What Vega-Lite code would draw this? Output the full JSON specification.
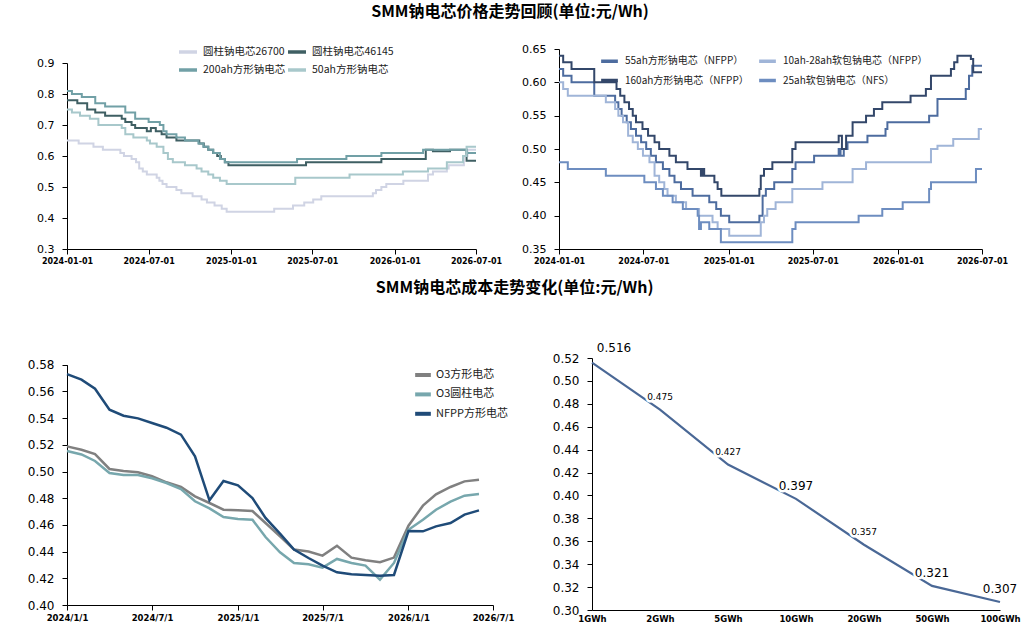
{
  "$schema": "https://vega.github.io/schema/vega-lite/v6.json",
  "padding": {"left": 27, "top": 4, "right": 5, "bottom": 5},
  "config": {
    "font": "DejaVu Sans",
    "view": {"stroke": null},
    "axis": {"grid": false, "domainColor": "#000", "tickColor": "#000", "labelColor": "#000", "tickSize": 5, "labelPadding": 8},
    "axisX": {"labelFlush": false, "labelOverlap": false, "labelFontWeight": "bold", "labelFontSize": 8, "labelPadding": 3, "labelAngle": 0},
    "legend": {"title": null, "orient": "none", "symbolType": "stroke", "labelFont": "Noto Sans CJK SC", "labelColor": "#222", "padding": 0},
    "title": {"font": "Noto Sans CJK SC", "fontSize": 16, "fontWeight": "bold", "color": "#000", "anchor": "middle", "baseline": "bottom"}
  },
  "datasets": {
    "tl": [
      {"s": "圆柱钠电芯26700", "d": "2024/01/01", "v": 0.65},
      {"s": "圆柱钠电芯26700", "d": "2024/01/27", "v": 0.64},
      {"s": "圆柱钠电芯26700", "d": "2024/02/29", "v": 0.63},
      {"s": "圆柱钠电芯26700", "d": "2024/03/21", "v": 0.62},
      {"s": "圆柱钠电芯26700", "d": "2024/04/29", "v": 0.61},
      {"s": "圆柱钠电芯26700", "d": "2024/05/07", "v": 0.60},
      {"s": "圆柱钠电芯26700", "d": "2024/05/24", "v": 0.59},
      {"s": "圆柱钠电芯26700", "d": "2024/06/03", "v": 0.58},
      {"s": "圆柱钠电芯26700", "d": "2024/06/10", "v": 0.56},
      {"s": "圆柱钠电芯26700", "d": "2024/06/18", "v": 0.55},
      {"s": "圆柱钠电芯26700", "d": "2024/06/27", "v": 0.54},
      {"s": "圆柱钠电芯26700", "d": "2024/07/19", "v": 0.53},
      {"s": "圆柱钠电芯26700", "d": "2024/07/25", "v": 0.52},
      {"s": "圆柱钠电芯26700", "d": "2024/08/01", "v": 0.51},
      {"s": "圆柱钠电芯26700", "d": "2024/08/10", "v": 0.50},
      {"s": "圆柱钠电芯26700", "d": "2024/09/01", "v": 0.49},
      {"s": "圆柱钠电芯26700", "d": "2024/09/12", "v": 0.48},
      {"s": "圆柱钠电芯26700", "d": "2024/10/07", "v": 0.47},
      {"s": "圆柱钠电芯26700", "d": "2024/10/27", "v": 0.46},
      {"s": "圆柱钠电芯26700", "d": "2024/11/08", "v": 0.45},
      {"s": "圆柱钠电芯26700", "d": "2024/11/25", "v": 0.44},
      {"s": "圆柱钠电芯26700", "d": "2024/12/11", "v": 0.43},
      {"s": "圆柱钠电芯26700", "d": "2024/12/22", "v": 0.42},
      {"s": "圆柱钠电芯26700", "d": "2025/04/07", "v": 0.43},
      {"s": "圆柱钠电芯26700", "d": "2025/05/19", "v": 0.44},
      {"s": "圆柱钠电芯26700", "d": "2025/06/13", "v": 0.45},
      {"s": "圆柱钠电芯26700", "d": "2025/07/03", "v": 0.46},
      {"s": "圆柱钠电芯26700", "d": "2025/07/21", "v": 0.47},
      {"s": "圆柱钠电芯26700", "d": "2025/11/13", "v": 0.48},
      {"s": "圆柱钠电芯26700", "d": "2025/11/20", "v": 0.49},
      {"s": "圆柱钠电芯26700", "d": "2025/12/02", "v": 0.50},
      {"s": "圆柱钠电芯26700", "d": "2025/12/13", "v": 0.51},
      {"s": "圆柱钠电芯26700", "d": "2026/01/20", "v": 0.52},
      {"s": "圆柱钠电芯26700", "d": "2026/03/16", "v": 0.54},
      {"s": "圆柱钠电芯26700", "d": "2026/03/27", "v": 0.55},
      {"s": "圆柱钠电芯26700", "d": "2026/04/27", "v": 0.56},
      {"s": "圆柱钠电芯26700", "d": "2026/05/01", "v": 0.57},
      {"s": "圆柱钠电芯26700", "d": "2026/06/04", "v": 0.60},
      {"s": "圆柱钠电芯26700", "d": "2026/06/12", "v": 0.62},
      {"s": "圆柱钠电芯26700", "d": "2026/07/01", "v": 0.62},
      {"s": "圆柱钠电芯46145", "d": "2024/01/01", "v": 0.78},
      {"s": "圆柱钠电芯46145", "d": "2024/01/24", "v": 0.77},
      {"s": "圆柱钠电芯46145", "d": "2024/02/15", "v": 0.75},
      {"s": "圆柱钠电芯46145", "d": "2024/03/04", "v": 0.74},
      {"s": "圆柱钠电芯46145", "d": "2024/03/26", "v": 0.73},
      {"s": "圆柱钠电芯46145", "d": "2024/05/02", "v": 0.72},
      {"s": "圆柱钠电芯46145", "d": "2024/05/10", "v": 0.71},
      {"s": "圆柱钠电芯46145", "d": "2024/05/24", "v": 0.70},
      {"s": "圆柱钠电芯46145", "d": "2024/06/01", "v": 0.69},
      {"s": "圆柱钠电芯46145", "d": "2024/06/27", "v": 0.68},
      {"s": "圆柱钠电芯46145", "d": "2024/07/06", "v": 0.69},
      {"s": "圆柱钠电芯46145", "d": "2024/07/17", "v": 0.68},
      {"s": "圆柱钠电芯46145", "d": "2024/07/30", "v": 0.67},
      {"s": "圆柱钠电芯46145", "d": "2024/08/10", "v": 0.66},
      {"s": "圆柱钠电芯46145", "d": "2024/09/01", "v": 0.65},
      {"s": "圆柱钠电芯46145", "d": "2024/10/22", "v": 0.64},
      {"s": "圆柱钠电芯46145", "d": "2024/11/01", "v": 0.63},
      {"s": "圆柱钠电芯46145", "d": "2024/11/11", "v": 0.62},
      {"s": "圆柱钠电芯46145", "d": "2024/11/22", "v": 0.61},
      {"s": "圆柱钠电芯46145", "d": "2024/12/01", "v": 0.60},
      {"s": "圆柱钠电芯46145", "d": "2024/12/09", "v": 0.59},
      {"s": "圆柱钠电芯46145", "d": "2024/12/18", "v": 0.58},
      {"s": "圆柱钠电芯46145", "d": "2024/12/26", "v": 0.57},
      {"s": "圆柱钠电芯46145", "d": "2025/06/17", "v": 0.58},
      {"s": "圆柱钠电芯46145", "d": "2025/12/02", "v": 0.59},
      {"s": "圆柱钠电芯46145", "d": "2026/03/11", "v": 0.62},
      {"s": "圆柱钠电芯46145", "d": "2026/03/27", "v": 0.615},
      {"s": "圆柱钠电芯46145", "d": "2026/05/04", "v": 0.62},
      {"s": "圆柱钠电芯46145", "d": "2026/06/10", "v": 0.585},
      {"s": "圆柱钠电芯46145", "d": "2026/07/01", "v": 0.585},
      {"s": "200ah方形钠电芯", "d": "2024/01/01", "v": 0.81},
      {"s": "200ah方形钠电芯", "d": "2024/01/12", "v": 0.80},
      {"s": "200ah方形钠电芯", "d": "2024/02/03", "v": 0.79},
      {"s": "200ah方形钠电芯", "d": "2024/03/04", "v": 0.77},
      {"s": "200ah方形钠电芯", "d": "2024/03/26", "v": 0.76},
      {"s": "200ah方形钠电芯", "d": "2024/05/10", "v": 0.74},
      {"s": "200ah方形钠电芯", "d": "2024/06/01", "v": 0.72},
      {"s": "200ah方形钠电芯", "d": "2024/07/01", "v": 0.71},
      {"s": "200ah方形钠电芯", "d": "2024/07/26", "v": 0.70},
      {"s": "200ah方形钠电芯", "d": "2024/08/03", "v": 0.68},
      {"s": "200ah方形钠电芯", "d": "2024/08/10", "v": 0.67},
      {"s": "200ah方形钠电芯", "d": "2024/09/01", "v": 0.66},
      {"s": "200ah方形钠电芯", "d": "2024/09/20", "v": 0.65},
      {"s": "200ah方形钠电芯", "d": "2024/10/20", "v": 0.64},
      {"s": "200ah方形钠电芯", "d": "2024/10/31", "v": 0.63},
      {"s": "200ah方形钠电芯", "d": "2024/11/11", "v": 0.62},
      {"s": "200ah方形钠电芯", "d": "2024/11/22", "v": 0.61},
      {"s": "200ah方形钠电芯", "d": "2024/12/07", "v": 0.59},
      {"s": "200ah方形钠电芯", "d": "2024/12/18", "v": 0.58},
      {"s": "200ah方形钠电芯", "d": "2025/05/28", "v": 0.59},
      {"s": "200ah方形钠电芯", "d": "2025/09/15", "v": 0.60},
      {"s": "200ah方形钠电芯", "d": "2025/12/02", "v": 0.61},
      {"s": "200ah方形钠电芯", "d": "2026/03/05", "v": 0.62},
      {"s": "200ah方形钠电芯", "d": "2026/06/10", "v": 0.61},
      {"s": "200ah方形钠电芯", "d": "2026/07/01", "v": 0.61},
      {"s": "50ah方形钠电芯", "d": "2024/01/01", "v": 0.75},
      {"s": "50ah方形钠电芯", "d": "2024/01/12", "v": 0.74},
      {"s": "50ah方形钠电芯", "d": "2024/01/30", "v": 0.73},
      {"s": "50ah方形钠电芯", "d": "2024/02/21", "v": 0.72},
      {"s": "50ah方形钠电芯", "d": "2024/03/11", "v": 0.70},
      {"s": "50ah方形钠电芯", "d": "2024/05/02", "v": 0.69},
      {"s": "50ah方形钠电芯", "d": "2024/05/10", "v": 0.67},
      {"s": "50ah方形钠电芯", "d": "2024/05/28", "v": 0.66},
      {"s": "50ah方形钠电芯", "d": "2024/06/27", "v": 0.65},
      {"s": "50ah方形钠电芯", "d": "2024/07/04", "v": 0.64},
      {"s": "50ah方形钠电芯", "d": "2024/07/19", "v": 0.63},
      {"s": "50ah方形钠电芯", "d": "2024/08/03", "v": 0.61},
      {"s": "50ah方形钠电芯", "d": "2024/08/13", "v": 0.59},
      {"s": "50ah方形钠电芯", "d": "2024/08/24", "v": 0.58},
      {"s": "50ah方形钠电芯", "d": "2024/09/20", "v": 0.57},
      {"s": "50ah方形钠电芯", "d": "2024/10/16", "v": 0.56},
      {"s": "50ah方形钠电芯", "d": "2024/10/27", "v": 0.55},
      {"s": "50ah方形钠电芯", "d": "2024/11/11", "v": 0.54},
      {"s": "50ah方形钠电芯", "d": "2024/11/22", "v": 0.53},
      {"s": "50ah方形钠电芯", "d": "2024/12/07", "v": 0.52},
      {"s": "50ah方形钠电芯", "d": "2024/12/22", "v": 0.51},
      {"s": "50ah方形钠电芯", "d": "2025/05/24", "v": 0.53},
      {"s": "50ah方形钠电芯", "d": "2025/09/22", "v": 0.54},
      {"s": "50ah方形钠电芯", "d": "2026/01/19", "v": 0.55},
      {"s": "50ah方形钠电芯", "d": "2026/03/16", "v": 0.56},
      {"s": "50ah方形钠电芯", "d": "2026/04/27", "v": 0.58},
      {"s": "50ah方形钠电芯", "d": "2026/06/02", "v": 0.60},
      {"s": "50ah方形钠电芯", "d": "2026/06/10", "v": 0.63},
      {"s": "50ah方形钠电芯", "d": "2026/07/01", "v": 0.63}
    ],
    "tr": [
      {"s": "55ah方形钠电芯（NFPP）", "d": "2024/01/01", "v": 0.62},
      {"s": "55ah方形钠电芯（NFPP）", "d": "2024/01/10", "v": 0.61},
      {"s": "55ah方形钠电芯（NFPP）", "d": "2024/01/28", "v": 0.60},
      {"s": "55ah方形钠电芯（NFPP）", "d": "2024/03/17", "v": 0.58},
      {"s": "55ah方形钠电芯（NFPP）", "d": "2024/05/01", "v": 0.57},
      {"s": "55ah方形钠电芯（NFPP）", "d": "2024/05/08", "v": 0.56},
      {"s": "55ah方形钠电芯（NFPP）", "d": "2024/05/15", "v": 0.55},
      {"s": "55ah方形钠电芯（NFPP）", "d": "2024/05/26", "v": 0.54},
      {"s": "55ah方形钠电芯（NFPP）", "d": "2024/06/04", "v": 0.53},
      {"s": "55ah方形钠电芯（NFPP）", "d": "2024/06/15", "v": 0.52},
      {"s": "55ah方形钠电芯（NFPP）", "d": "2024/06/26", "v": 0.51},
      {"s": "55ah方形钠电芯（NFPP）", "d": "2024/07/07", "v": 0.50},
      {"s": "55ah方形钠电芯（NFPP）", "d": "2024/07/17", "v": 0.49},
      {"s": "55ah方形钠电芯（NFPP）", "d": "2024/07/28", "v": 0.48},
      {"s": "55ah方形钠电芯（NFPP）", "d": "2024/08/12", "v": 0.47},
      {"s": "55ah方形钠电芯（NFPP）", "d": "2024/08/26", "v": 0.46},
      {"s": "55ah方形钠电芯（NFPP）", "d": "2024/09/06", "v": 0.45},
      {"s": "55ah方形钠电芯（NFPP）", "d": "2024/09/20", "v": 0.44},
      {"s": "55ah方形钠电芯（NFPP）", "d": "2024/10/15", "v": 0.43},
      {"s": "55ah方形钠电芯（NFPP）", "d": "2024/11/20", "v": 0.42},
      {"s": "55ah方形钠电芯（NFPP）", "d": "2024/12/05", "v": 0.41},
      {"s": "55ah方形钠电芯（NFPP）", "d": "2024/12/15", "v": 0.40},
      {"s": "55ah方形钠电芯（NFPP）", "d": "2025/01/02", "v": 0.39},
      {"s": "55ah方形钠电芯（NFPP）", "d": "2025/03/08", "v": 0.40},
      {"s": "55ah方形钠电芯（NFPP）", "d": "2025/03/15", "v": 0.43},
      {"s": "55ah方形钠电芯（NFPP）", "d": "2025/03/22", "v": 0.44},
      {"s": "55ah方形钠电芯（NFPP）", "d": "2025/04/09", "v": 0.45},
      {"s": "55ah方形钠电芯（NFPP）", "d": "2025/05/18", "v": 0.47},
      {"s": "55ah方形钠电芯（NFPP）", "d": "2025/05/25", "v": 0.48},
      {"s": "55ah方形钠电芯（NFPP）", "d": "2025/07/04", "v": 0.49},
      {"s": "55ah方形钠电芯（NFPP）", "d": "2025/08/26", "v": 0.50},
      {"s": "55ah方形钠电芯（NFPP）", "d": "2025/08/30", "v": 0.49},
      {"s": "55ah方形钠电芯（NFPP）", "d": "2025/09/06", "v": 0.50},
      {"s": "55ah方形钠电芯（NFPP）", "d": "2025/09/14", "v": 0.51},
      {"s": "55ah方形钠电芯（NFPP）", "d": "2025/10/27", "v": 0.52},
      {"s": "55ah方形钠电芯（NFPP）", "d": "2025/12/05", "v": 0.53},
      {"s": "55ah方形钠电芯（NFPP）", "d": "2025/12/09", "v": 0.54},
      {"s": "55ah方形钠电芯（NFPP）", "d": "2026/03/09", "v": 0.55},
      {"s": "55ah方形钠电芯（NFPP）", "d": "2026/03/27", "v": 0.575},
      {"s": "55ah方形钠电芯（NFPP）", "d": "2026/05/27", "v": 0.59},
      {"s": "55ah方形钠电芯（NFPP）", "d": "2026/06/03", "v": 0.61},
      {"s": "55ah方形钠电芯（NFPP）", "d": "2026/06/10", "v": 0.625},
      {"s": "55ah方形钠电芯（NFPP）", "d": "2026/07/01", "v": 0.625},
      {"s": "10ah-28ah软包钠电芯（NFPP）", "d": "2024/01/01", "v": 0.60},
      {"s": "10ah-28ah软包钠电芯（NFPP）", "d": "2024/01/10", "v": 0.59},
      {"s": "10ah-28ah软包钠电芯（NFPP）", "d": "2024/01/20", "v": 0.58},
      {"s": "10ah-28ah软包钠电芯（NFPP）", "d": "2024/04/11", "v": 0.57},
      {"s": "10ah-28ah软包钠电芯（NFPP）", "d": "2024/05/01", "v": 0.56},
      {"s": "10ah-28ah软包钠电芯（NFPP）", "d": "2024/05/08", "v": 0.55},
      {"s": "10ah-28ah软包钠电芯（NFPP）", "d": "2024/05/18", "v": 0.54},
      {"s": "10ah-28ah软包钠电芯（NFPP）", "d": "2024/05/29", "v": 0.52},
      {"s": "10ah-28ah软包钠电芯（NFPP）", "d": "2024/06/08", "v": 0.51},
      {"s": "10ah-28ah软包钠电芯（NFPP）", "d": "2024/06/19", "v": 0.50},
      {"s": "10ah-28ah软包钠电芯（NFPP）", "d": "2024/06/30", "v": 0.49},
      {"s": "10ah-28ah软包钠电芯（NFPP）", "d": "2024/07/14", "v": 0.48},
      {"s": "10ah-28ah软包钠电芯（NFPP）", "d": "2024/07/25", "v": 0.46},
      {"s": "10ah-28ah软包钠电芯（NFPP）", "d": "2024/08/04", "v": 0.45},
      {"s": "10ah-28ah软包钠电芯（NFPP）", "d": "2024/08/15", "v": 0.44},
      {"s": "10ah-28ah软包钠电芯（NFPP）", "d": "2024/08/22", "v": 0.43},
      {"s": "10ah-28ah软包钠电芯（NFPP）", "d": "2024/09/09", "v": 0.42},
      {"s": "10ah-28ah软包钠电芯（NFPP）", "d": "2024/10/01", "v": 0.41},
      {"s": "10ah-28ah软包钠电芯（NFPP）", "d": "2024/10/29", "v": 0.40},
      {"s": "10ah-28ah软包钠电芯（NFPP）", "d": "2024/11/27", "v": 0.39},
      {"s": "10ah-28ah软包钠电芯（NFPP）", "d": "2024/12/08", "v": 0.38},
      {"s": "10ah-28ah软包钠电芯（NFPP）", "d": "2025/01/02", "v": 0.37},
      {"s": "10ah-28ah软包钠电芯（NFPP）", "d": "2025/03/11", "v": 0.39},
      {"s": "10ah-28ah软包钠电芯（NFPP）", "d": "2025/03/18", "v": 0.40},
      {"s": "10ah-28ah软包钠电芯（NFPP）", "d": "2025/03/25", "v": 0.41},
      {"s": "10ah-28ah软包钠电芯（NFPP）", "d": "2025/04/12", "v": 0.42},
      {"s": "10ah-28ah软包钠电芯（NFPP）", "d": "2025/05/18", "v": 0.44},
      {"s": "10ah-28ah软包钠电芯（NFPP）", "d": "2025/07/22", "v": 0.45},
      {"s": "10ah-28ah软包钠电芯（NFPP）", "d": "2025/09/25", "v": 0.47},
      {"s": "10ah-28ah软包钠电芯（NFPP）", "d": "2025/10/24", "v": 0.48},
      {"s": "10ah-28ah软包钠电芯（NFPP）", "d": "2026/03/13", "v": 0.50},
      {"s": "10ah-28ah软包钠电芯（NFPP）", "d": "2026/03/27", "v": 0.505},
      {"s": "10ah-28ah软包钠电芯（NFPP）", "d": "2026/04/30", "v": 0.515},
      {"s": "10ah-28ah软包钠电芯（NFPP）", "d": "2026/06/24", "v": 0.53},
      {"s": "10ah-28ah软包钠电芯（NFPP）", "d": "2026/07/01", "v": 0.53},
      {"s": "160ah方形钠电芯（NFPP）", "d": "2024/01/01", "v": 0.64},
      {"s": "160ah方形钠电芯（NFPP）", "d": "2024/01/10", "v": 0.63},
      {"s": "160ah方形钠电芯（NFPP）", "d": "2024/01/28", "v": 0.62},
      {"s": "160ah方形钠电芯（NFPP）", "d": "2024/03/17", "v": 0.60},
      {"s": "160ah方形钠电芯（NFPP）", "d": "2024/05/04", "v": 0.59},
      {"s": "160ah方形钠电芯（NFPP）", "d": "2024/05/12", "v": 0.58},
      {"s": "160ah方形钠电芯（NFPP）", "d": "2024/05/21", "v": 0.57},
      {"s": "160ah方形钠电芯（NFPP）", "d": "2024/05/31", "v": 0.56},
      {"s": "160ah方形钠电芯（NFPP）", "d": "2024/06/08", "v": 0.55},
      {"s": "160ah方形钠电芯（NFPP）", "d": "2024/06/15", "v": 0.54},
      {"s": "160ah方形钠电芯（NFPP）", "d": "2024/06/29", "v": 0.53},
      {"s": "160ah方形钠电芯（NFPP）", "d": "2024/07/11", "v": 0.52},
      {"s": "160ah方形钠电芯（NFPP）", "d": "2024/07/25", "v": 0.51},
      {"s": "160ah方形钠电芯（NFPP）", "d": "2024/08/04", "v": 0.50},
      {"s": "160ah方形钠电芯（NFPP）", "d": "2024/08/26", "v": 0.49},
      {"s": "160ah方形钠电芯（NFPP）", "d": "2024/09/09", "v": 0.48},
      {"s": "160ah方形钠电芯（NFPP）", "d": "2024/10/04", "v": 0.47},
      {"s": "160ah方形钠电芯（NFPP）", "d": "2024/11/02", "v": 0.46},
      {"s": "160ah方形钠电芯（NFPP）", "d": "2024/11/06", "v": 0.47},
      {"s": "160ah方形钠电芯（NFPP）", "d": "2024/11/09", "v": 0.46},
      {"s": "160ah方形钠电芯（NFPP）", "d": "2024/12/01", "v": 0.45},
      {"s": "160ah方形钠电芯（NFPP）", "d": "2024/12/08", "v": 0.44},
      {"s": "160ah方形钠电芯（NFPP）", "d": "2024/12/16", "v": 0.43},
      {"s": "160ah方形钠电芯（NFPP）", "d": "2025/03/08", "v": 0.44},
      {"s": "160ah方形钠电芯（NFPP）", "d": "2025/03/11", "v": 0.46},
      {"s": "160ah方形钠电芯（NFPP）", "d": "2025/03/18", "v": 0.47},
      {"s": "160ah方形钠电芯（NFPP）", "d": "2025/04/05", "v": 0.48},
      {"s": "160ah方形钠电芯（NFPP）", "d": "2025/05/18", "v": 0.50},
      {"s": "160ah方形钠电芯（NFPP）", "d": "2025/05/25", "v": 0.51},
      {"s": "160ah方形钠电芯（NFPP）", "d": "2025/08/26", "v": 0.52},
      {"s": "160ah方形钠电芯（NFPP）", "d": "2025/09/02", "v": 0.50},
      {"s": "160ah方形钠电芯（NFPP）", "d": "2025/09/11", "v": 0.52},
      {"s": "160ah方形钠电芯（NFPP）", "d": "2025/09/25", "v": 0.54},
      {"s": "160ah方形钠电芯（NFPP）", "d": "2025/10/24", "v": 0.55},
      {"s": "160ah方形钠电芯（NFPP）", "d": "2025/11/10", "v": 0.56},
      {"s": "160ah方形钠电芯（NFPP）", "d": "2025/11/28", "v": 0.57},
      {"s": "160ah方形钠电芯（NFPP）", "d": "2026/01/28", "v": 0.58},
      {"s": "160ah方形钠电芯（NFPP）", "d": "2026/03/02", "v": 0.59},
      {"s": "160ah方形钠电芯（NFPP）", "d": "2026/03/13", "v": 0.61},
      {"s": "160ah方形钠电芯（NFPP）", "d": "2026/04/25", "v": 0.62},
      {"s": "160ah方形钠电芯（NFPP）", "d": "2026/05/02", "v": 0.63},
      {"s": "160ah方形钠电芯（NFPP）", "d": "2026/05/09", "v": 0.64},
      {"s": "160ah方形钠电芯（NFPP）", "d": "2026/06/07", "v": 0.635},
      {"s": "160ah方形钠电芯（NFPP）", "d": "2026/06/12", "v": 0.615},
      {"s": "160ah方形钠电芯（NFPP）", "d": "2026/07/01", "v": 0.615},
      {"s": "25ah软包钠电芯（NFS）", "d": "2024/01/01", "v": 0.48},
      {"s": "25ah软包钠电芯（NFS）", "d": "2024/01/20", "v": 0.47},
      {"s": "25ah软包钠电芯（NFS）", "d": "2024/04/11", "v": 0.46},
      {"s": "25ah软包钠电芯（NFS）", "d": "2024/07/03", "v": 0.45},
      {"s": "25ah软包钠电芯（NFS）", "d": "2024/07/28", "v": 0.44},
      {"s": "25ah软包钠电芯（NFS）", "d": "2024/08/12", "v": 0.43},
      {"s": "25ah软包钠电芯（NFS）", "d": "2024/09/02", "v": 0.42},
      {"s": "25ah软包钠电芯（NFS）", "d": "2024/09/24", "v": 0.41},
      {"s": "25ah软包钠电芯（NFS）", "d": "2024/10/26", "v": 0.40},
      {"s": "25ah软包钠电芯（NFS）", "d": "2024/10/29", "v": 0.38},
      {"s": "25ah软包钠电芯（NFS）", "d": "2024/11/02", "v": 0.39},
      {"s": "25ah软包钠电芯（NFS）", "d": "2024/11/20", "v": 0.38},
      {"s": "25ah软包钠电芯（NFS）", "d": "2024/12/15", "v": 0.36},
      {"s": "25ah软包钠电芯（NFS）", "d": "2025/05/18", "v": 0.38},
      {"s": "25ah软包钠电芯（NFS）", "d": "2025/05/25", "v": 0.39},
      {"s": "25ah软包钠电芯（NFS）", "d": "2025/10/08", "v": 0.40},
      {"s": "25ah软包钠电芯（NFS）", "d": "2025/11/28", "v": 0.41},
      {"s": "25ah软包钠电芯（NFS）", "d": "2026/01/11", "v": 0.42},
      {"s": "25ah软包钠电芯（NFS）", "d": "2026/03/09", "v": 0.44},
      {"s": "25ah软包钠电芯（NFS）", "d": "2026/03/13", "v": 0.45},
      {"s": "25ah软包钠电芯（NFS）", "d": "2026/06/18", "v": 0.47},
      {"s": "25ah软包钠电芯（NFS）", "d": "2026/07/01", "v": 0.47}
    ],
    "bl": [
      {"s": "O3方形电芯", "d": "2024/01/01", "v": 0.5188},
      {"s": "O3方形电芯", "d": "2024/02/01", "v": 0.5163},
      {"s": "O3方形电芯", "d": "2024/03/01", "v": 0.5131},
      {"s": "O3方形电芯", "d": "2024/04/01", "v": 0.5019},
      {"s": "O3方形电芯", "d": "2024/05/01", "v": 0.5004},
      {"s": "O3方形电芯", "d": "2024/06/01", "v": 0.4994},
      {"s": "O3方形电芯", "d": "2024/07/01", "v": 0.4964},
      {"s": "O3方形电芯", "d": "2024/08/01", "v": 0.4919},
      {"s": "O3方形电芯", "d": "2024/09/01", "v": 0.4884},
      {"s": "O3方形电芯", "d": "2024/10/01", "v": 0.4814},
      {"s": "O3方形电芯", "d": "2024/11/01", "v": 0.4764},
      {"s": "O3方形电芯", "d": "2024/12/01", "v": 0.4714},
      {"s": "O3方形电芯", "d": "2025/01/01", "v": 0.4709},
      {"s": "O3方形电芯", "d": "2025/02/01", "v": 0.4704},
      {"s": "O3方形电芯", "d": "2025/03/01", "v": 0.4614},
      {"s": "O3方形电芯", "d": "2025/04/01", "v": 0.4514},
      {"s": "O3方形电芯", "d": "2025/05/01", "v": 0.4415},
      {"s": "O3方形电芯", "d": "2025/06/01", "v": 0.4400},
      {"s": "O3方形电芯", "d": "2025/07/01", "v": 0.4370},
      {"s": "O3方形电芯", "d": "2025/08/01", "v": 0.4444},
      {"s": "O3方形电芯", "d": "2025/09/01", "v": 0.4355},
      {"s": "O3方形电芯", "d": "2025/10/01", "v": 0.4335},
      {"s": "O3方形电芯", "d": "2025/11/01", "v": 0.4320},
      {"s": "O3方形电芯", "d": "2025/12/01", "v": 0.4355},
      {"s": "O3方形电芯", "d": "2026/01/01", "v": 0.4594},
      {"s": "O3方形电芯", "d": "2026/02/01", "v": 0.4744},
      {"s": "O3方形电芯", "d": "2026/03/01", "v": 0.4829},
      {"s": "O3方形电芯", "d": "2026/04/01", "v": 0.4884},
      {"s": "O3方形电芯", "d": "2026/05/01", "v": 0.4926},
      {"s": "O3方形电芯", "d": "2026/06/01", "v": 0.4939},
      {"s": "O3圆柱电芯", "d": "2024/01/01", "v": 0.5153},
      {"s": "O3圆柱电芯", "d": "2024/02/01", "v": 0.5128},
      {"s": "O3圆柱电芯", "d": "2024/03/01", "v": 0.5079},
      {"s": "O3圆柱电芯", "d": "2024/04/01", "v": 0.4989},
      {"s": "O3圆柱电芯", "d": "2024/05/01", "v": 0.4974},
      {"s": "O3圆柱电芯", "d": "2024/06/01", "v": 0.4974},
      {"s": "O3圆柱电芯", "d": "2024/07/01", "v": 0.4949},
      {"s": "O3圆柱电芯", "d": "2024/08/01", "v": 0.4914},
      {"s": "O3圆柱电芯", "d": "2024/09/01", "v": 0.4869},
      {"s": "O3圆柱电芯", "d": "2024/10/01", "v": 0.4777},
      {"s": "O3圆柱电芯", "d": "2024/11/01", "v": 0.4724},
      {"s": "O3圆柱电芯", "d": "2024/12/01", "v": 0.4659},
      {"s": "O3圆柱电芯", "d": "2025/01/01", "v": 0.4644},
      {"s": "O3圆柱电芯", "d": "2025/02/01", "v": 0.4639},
      {"s": "O3圆柱电芯", "d": "2025/03/01", "v": 0.4509},
      {"s": "O3圆柱电芯", "d": "2025/04/01", "v": 0.4395},
      {"s": "O3圆柱电芯", "d": "2025/05/01", "v": 0.4315},
      {"s": "O3圆柱电芯", "d": "2025/06/01", "v": 0.4305},
      {"s": "O3圆柱电芯", "d": "2025/07/01", "v": 0.4280},
      {"s": "O3圆柱电芯", "d": "2025/08/01", "v": 0.4345},
      {"s": "O3圆柱电芯", "d": "2025/09/01", "v": 0.4315},
      {"s": "O3圆柱电芯", "d": "2025/10/01", "v": 0.4295},
      {"s": "O3圆柱电芯", "d": "2025/11/01", "v": 0.4190},
      {"s": "O3圆柱电芯", "d": "2025/12/01", "v": 0.4315},
      {"s": "O3圆柱电芯", "d": "2026/01/01", "v": 0.4564},
      {"s": "O3圆柱电芯", "d": "2026/02/01", "v": 0.4639},
      {"s": "O3圆柱电芯", "d": "2026/03/01", "v": 0.4714},
      {"s": "O3圆柱电芯", "d": "2026/04/01", "v": 0.4774},
      {"s": "O3圆柱电芯", "d": "2026/05/01", "v": 0.4819},
      {"s": "O3圆柱电芯", "d": "2026/06/01", "v": 0.4831},
      {"s": "NFPP方形电芯", "d": "2024/01/01", "v": 0.5730},
      {"s": "NFPP方形电芯", "d": "2024/02/01", "v": 0.5688},
      {"s": "NFPP方形电芯", "d": "2024/03/01", "v": 0.5620},
      {"s": "NFPP方形电芯", "d": "2024/04/01", "v": 0.5463},
      {"s": "NFPP方形电芯", "d": "2024/05/01", "v": 0.5418},
      {"s": "NFPP方形电芯", "d": "2024/06/01", "v": 0.5398},
      {"s": "NFPP方形电芯", "d": "2024/07/01", "v": 0.5363},
      {"s": "NFPP方形电芯", "d": "2024/08/01", "v": 0.5328},
      {"s": "NFPP方形电芯", "d": "2024/09/01", "v": 0.5276},
      {"s": "NFPP方形电芯", "d": "2024/10/01", "v": 0.5114},
      {"s": "NFPP方形电芯", "d": "2024/11/01", "v": 0.4784},
      {"s": "NFPP方形电芯", "d": "2024/12/01", "v": 0.4929},
      {"s": "NFPP方形电芯", "d": "2025/01/01", "v": 0.4896},
      {"s": "NFPP方形电芯", "d": "2025/02/01", "v": 0.4801},
      {"s": "NFPP方形电芯", "d": "2025/03/01", "v": 0.4652},
      {"s": "NFPP方形电芯", "d": "2025/04/01", "v": 0.4534},
      {"s": "NFPP方形电芯", "d": "2025/05/01", "v": 0.4415},
      {"s": "NFPP方形电芯", "d": "2025/06/01", "v": 0.4352},
      {"s": "NFPP方形电芯", "d": "2025/07/01", "v": 0.4295},
      {"s": "NFPP方形电芯", "d": "2025/08/01", "v": 0.4245},
      {"s": "NFPP方形电芯", "d": "2025/09/01", "v": 0.4230},
      {"s": "NFPP方形电芯", "d": "2025/10/01", "v": 0.4225},
      {"s": "NFPP方形电芯", "d": "2025/11/01", "v": 0.4220},
      {"s": "NFPP方形电芯", "d": "2025/12/01", "v": 0.4225},
      {"s": "NFPP方形电芯", "d": "2026/01/01", "v": 0.4554},
      {"s": "NFPP方形电芯", "d": "2026/02/01", "v": 0.4552},
      {"s": "NFPP方形电芯", "d": "2026/03/01", "v": 0.4589},
      {"s": "NFPP方形电芯", "d": "2026/04/01", "v": 0.4614},
      {"s": "NFPP方形电芯", "d": "2026/05/01", "v": 0.4677},
      {"s": "NFPP方形电芯", "d": "2026/06/01", "v": 0.4709}
    ],
    "br": [
      {"cap": "1GWh", "cost": 0.516},
      {"cap": "2GWh", "cost": 0.475},
      {"cap": "5GWh", "cost": 0.427},
      {"cap": "10GWh", "cost": 0.397},
      {"cap": "20GWh", "cost": 0.357},
      {"cap": "50GWh", "cost": 0.321},
      {"cap": "100GWh", "cost": 0.307}
    ]
  },
  "vconcat": [
    {
      "title": {"text": "SMM钠电芯价格走势回顾(单位:元/Wh)", "offset": 21, "dx": -12},
      "bounds": "flush",
      "spacing": 83,
      "resolve": {"scale": {"color": "independent", "x": "independent", "y": "independent"}},
      "hconcat": [
        {
          "width": 409,
          "height": 200,
          "data": {"name": "tl"},
          "mark": {"type": "line", "interpolate": "step-after", "strokeWidth": 2},
          "encoding": {
            "x": {
              "field": "d", "type": "temporal", "title": null,
              "scale": {"domain": [{"year": 2024, "month": 1, "date": 1}, {"year": 2026, "month": 7, "date": 1}]},
              "axis": {
                "format": "%Y-%m-%d",
                "values": [{"year": 2024, "month": 1, "date": 1}, {"year": 2024, "month": 7, "date": 1}, {"year": 2025, "month": 1, "date": 1}, {"year": 2025, "month": 7, "date": 1}, {"year": 2026, "month": 1, "date": 1}, {"year": 2026, "month": 7, "date": 1}]
              }
            },
            "y": {
              "field": "v", "type": "quantitative", "title": null,
              "scale": {"domain": [0.3, 0.9], "range": [200, 14], "zero": false, "nice": false},
              "axis": {"values": [0.3, 0.4, 0.5, 0.6, 0.7, 0.8, 0.9], "format": ".1f", "labelFontSize": 11}
            },
            "color": {
              "field": "s", "type": "nominal",
              "scale": {
                "domain": ["圆柱钠电芯26700", "圆柱钠电芯46145", "200ah方形钠电芯", "50ah方形钠电芯"],
                "range": ["#d0d4e4", "#3f5f63", "#71a0a6", "#a8c8cb"]
              },
              "legend": {
                "legendX": 110, "legendY": -8, "direction": "horizontal", "columns": 2,
                "symbolSize": 324, "symbolStrokeWidth": 3.5, "labelFontSize": 10.5,
                "labelOffset": 4, "rowPadding": 0, "columnPadding": -7
              }
            }
          }
        },
        {
          "width": 423,
          "height": 200,
          "data": {"name": "tr"},
          "mark": {"type": "line", "interpolate": "step-after", "strokeWidth": 2},
          "encoding": {
            "x": {
              "field": "d", "type": "temporal", "title": null,
              "scale": {"domain": [{"year": 2024, "month": 1, "date": 1}, {"year": 2026, "month": 7, "date": 1}]},
              "axis": {
                "format": "%Y-%m-%d",
                "values": [{"year": 2024, "month": 1, "date": 1}, {"year": 2024, "month": 7, "date": 1}, {"year": 2025, "month": 1, "date": 1}, {"year": 2025, "month": 7, "date": 1}, {"year": 2026, "month": 1, "date": 1}, {"year": 2026, "month": 7, "date": 1}]
              }
            },
            "y": {
              "field": "v", "type": "quantitative", "title": null,
              "scale": {"domain": [0.35, 0.65], "zero": false, "nice": false},
              "axis": {"values": [0.35, 0.4, 0.45, 0.5, 0.55, 0.6, 0.65], "format": ".2f", "labelFontSize": 11}
            },
            "color": {
              "field": "s", "type": "nominal",
              "scale": {
                "domain": ["55ah方形钠电芯（NFPP）", "10ah-28ah软包钠电芯（NFPP）", "160ah方形钠电芯（NFPP）", "25ah软包钠电芯（NFS）"],
                "range": ["#4d6c9f", "#a0b5d8", "#33476a", "#6d8dc0"]
              },
              "legend": {
                "legendX": 40, "legendY": 1.5, "direction": "horizontal", "columns": 2,
                "symbolSize": 280, "symbolStrokeWidth": 3.5, "labelFontSize": 10,
                "labelOffset": 5, "rowPadding": 1.5, "columnPadding": 3
              }
            }
          }
        }
      ]
    },
    {
      "title": {"text": "SMM钠电芯成本走势变化(单位:元/Wh)", "offset": 46, "dx": -9},
      "bounds": "flush",
      "spacing": 99,
      "resolve": {"scale": {"color": "independent", "x": "independent", "y": "independent"}},
      "hconcat": [
        {
          "width": 426,
          "height": 247,
          "data": {"name": "bl"},
          "mark": {"type": "line", "strokeWidth": 2.5},
          "encoding": {
            "x": {
              "field": "d", "type": "temporal", "title": null,
              "scale": {"domain": [{"year": 2024, "month": 1, "date": 1}, {"year": 2026, "month": 7, "date": 1}]},
              "axis": {
                "format": "%Y/%-m/%-d", "labelFontSize": 8.5,
                "values": [{"year": 2024, "month": 1, "date": 1}, {"year": 2024, "month": 7, "date": 1}, {"year": 2025, "month": 1, "date": 1}, {"year": 2025, "month": 7, "date": 1}, {"year": 2026, "month": 1, "date": 1}, {"year": 2026, "month": 7, "date": 1}]
              }
            },
            "y": {
              "field": "v", "type": "quantitative", "title": null,
              "scale": {"domain": [0.4, 0.58], "range": [247, 6.7], "zero": false, "nice": false},
              "axis": {"values": [0.4, 0.42, 0.44, 0.46, 0.48, 0.5, 0.52, 0.54, 0.56, 0.58], "format": ".2f", "labelFontSize": 12}
            },
            "color": {
              "field": "s", "type": "nominal",
              "scale": {
                "domain": ["O3方形电芯", "O3圆柱电芯", "NFPP方形电芯"],
                "range": ["#808080", "#77a7ad", "#1f4b78"]
              },
              "legend": {
                "legendX": 346, "legendY": 7, "direction": "vertical",
                "symbolSize": 246, "symbolStrokeWidth": 4, "labelFontSize": 11,
                "labelOffset": 3, "rowPadding": 1.4
              }
            }
          }
        },
        {
          "width": 408,
          "height": 252,
          "data": {"name": "br"},
          "encoding": {
            "x": {
              "field": "cap", "type": "ordinal", "title": null, "sort": null,
              "scale": {"type": "point", "padding": 0},
              "axis": {"ticks": false, "labelFontSize": 8.5, "labelPadding": 4}
            },
            "y": {
              "field": "cost", "type": "quantitative", "title": null,
              "scale": {"domain": [0.3, 0.52], "zero": false, "nice": false},
              "axis": {"values": [0.3, 0.32, 0.34, 0.36, 0.38, 0.4, 0.42, 0.44, 0.46, 0.48, 0.5, 0.52], "format": ".2f", "labelFontSize": 12}
            }
          },
          "layer": [
            {"mark": {"type": "line", "color": "#4a6896", "strokeWidth": 2.2}},
            {
              "transform": [{"filter": "datum.cap != '1GWh'"}],
              "mark": {"type": "text", "dy": -13, "stroke": "white", "strokeWidth": 5, "strokeJoin": "round", "color": "white"},
              "encoding": {
                "text": {"field": "cost", "format": ".3f"},
                "size": {"condition": {"test": "indexof(['2GWh','5GWh','20GWh'], datum.cap) >= 0", "value": 9}, "value": 12}
              }
            },
            {
              "transform": [{"filter": "datum.cap != '1GWh'"}],
              "mark": {"type": "text", "dy": -13, "color": "#000"},
              "encoding": {
                "text": {"field": "cost", "format": ".3f"},
                "size": {"condition": {"test": "indexof(['2GWh','5GWh','20GWh'], datum.cap) >= 0", "value": 9}, "value": 12}
              }
            },
            {
              "transform": [{"filter": "datum.cap == '1GWh'"}],
              "mark": {"type": "text", "dy": -15, "dx": 22, "fontSize": 12, "color": "#000"},
              "encoding": {"text": {"field": "cost", "format": ".3f"}}
            }
          ]
        }
      ]
    }
  ],
  "spacing": 309,
  "bounds": "flush",
  "resolve": {"scale": {"color": "independent"}}
}
